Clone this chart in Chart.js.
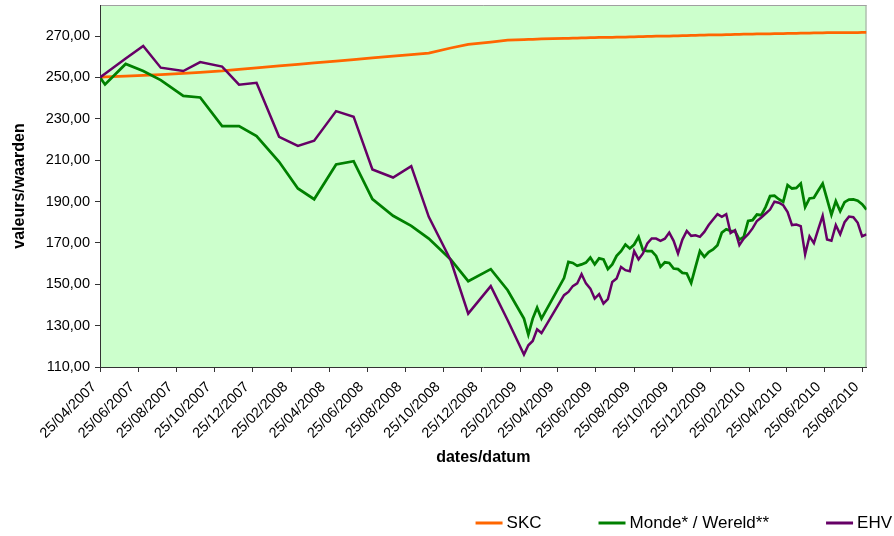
<!DOCTYPE html>
<html lang="nl">
<head>
<meta charset="UTF-8">
<title>SKC - Monde / Wereld - EHV</title>
<script src="https://cdn.jsdelivr.net/npm/chart.js@4"></script>
<style>
  html, body { margin: 0; padding: 0; background: #fff; }
  #chart { display: block; }
</style>
</head>
<body>
<canvas id="chart" width="894" height="536"></canvas>
<script>
// monthly points first, weekly from May 2009
const dates = [
  '25/04/2007','03/05/2007','05/06/2007','03/07/2007','31/07/2007','05/09/2007','02/10/2007','06/11/2007',
  '03/12/2007','31/12/2007','05/02/2008','06/03/2008','01/04/2008','06/05/2008','03/06/2008','03/07/2008',
  '05/08/2008','03/09/2008','01/10/2008','05/11/2008','03/12/2008','08/01/2009','04/02/2009','02/03/2009',
  '09/03/2009','16/03/2009','23/03/2009','30/03/2009',
  '05/05/2009','12/05/2009','19/05/2009','26/05/2009','02/06/2009','09/06/2009','16/06/2009','23/06/2009',
  '30/06/2009','07/07/2009','14/07/2009','21/07/2009','28/07/2009','04/08/2009','11/08/2009','18/08/2009',
  '25/08/2009','01/09/2009','08/09/2009','15/09/2009','22/09/2009','29/09/2009','06/10/2009','13/10/2009',
  '20/10/2009','27/10/2009','03/11/2009','10/11/2009','17/11/2009','24/11/2009','01/12/2009','08/12/2009',
  '15/12/2009','22/12/2009','29/12/2009','05/01/2010','12/01/2010','19/01/2010','26/01/2010','02/02/2010',
  '09/02/2010','16/02/2010','23/02/2010','02/03/2010','09/03/2010','16/03/2010','23/03/2010','30/03/2010',
  '06/04/2010','13/04/2010','20/04/2010','27/04/2010','04/05/2010','11/05/2010','18/05/2010','25/05/2010',
  '01/06/2010','08/06/2010','15/06/2010','22/06/2010','29/06/2010','06/07/2010','13/07/2010','20/07/2010',
  '27/07/2010','03/08/2010','10/08/2010','17/08/2010','24/08/2010','31/08/2010'
];

const skc = [
  250.0,250.2,250.6,251.0,251.4,251.9,252.4,253.1,253.9,254.6,255.6,256.3,257.0,257.9,258.6,259.4,
  260.3,261.0,261.7,264.2,266.0,267.1,268.0,268.3,268.4,268.4,268.5,268.6,
  268.9,268.9,269.0,269.0,269.1,269.1,269.2,269.2,269.3,269.3,269.4,269.4,269.5,269.5,269.5,269.6,
  269.6,269.7,269.7,269.8,269.8,269.9,269.9,270.0,270.0,270.1,270.1,270.2,270.2,270.3,270.3,270.4,
  270.4,270.5,270.5,270.6,270.6,270.7,270.7,270.8,270.8,270.9,270.9,270.9,271.0,271.0,271.1,271.1,
  271.2,271.2,271.2,271.3,271.3,271.3,271.4,271.4,271.4,271.5,271.5,271.5,271.6,271.6,271.6,271.6,
  271.7,271.7,271.7,271.7,271.8,271.8
];

const monde = [
  250.0,246.6,256.5,253.1,248.7,241.1,240.3,226.5,226.5,221.6,209.2,196.3,191.1,207.9,209.5,191.2,
  183.1,178.2,172.1,162.0,151.5,157.3,147.1,133.4,125.7,133.4,138.7,133.4,
  153.0,160.8,160.3,158.9,159.6,160.5,162.9,159.6,162.5,162.0,157.3,159.6,163.7,166.0,169.2,167.3,
  169.2,172.9,166.5,166.0,166.0,163.7,158.4,160.6,160.3,157.6,157.3,155.5,155.2,150.6,158.4,166.0,
  163.2,165.6,166.8,168.9,175.0,176.6,175.8,175.7,171.6,172.9,180.6,181.0,183.7,183.4,187.4,192.6,
  192.8,191.1,189.8,197.9,196.3,196.6,198.7,187.3,191.5,191.8,195.3,198.7,191.1,183.6,190.2,185.3,
  189.7,190.9,191.0,190.4,188.7,186.1
];

const ehv = [
  250.0,251.8,259.1,265.2,254.7,253.1,257.4,255.2,246.5,247.4,221.3,216.9,219.4,233.7,231.0,205.5,
  201.6,207.1,182.6,161.6,135.8,149.1,132.6,116.0,120.5,122.6,128.2,126.4,
  144.7,146.3,149.1,150.4,154.9,150.4,147.9,143.1,145.2,140.7,142.8,151.1,152.8,158.4,156.8,156.3,
  166.0,162.0,164.9,169.7,172.1,172.1,171.0,172.0,175.0,171.0,164.9,171.6,175.8,173.4,173.7,172.9,
  175.3,178.6,181.3,183.9,182.6,183.9,174.8,176.1,168.9,172.1,174.2,177.0,180.6,182.3,184.2,186.1,
  189.9,189.4,188.2,184.9,178.6,178.9,178.1,164.5,173.2,169.9,176.6,183.1,171.6,171.0,178.6,174.2,
  180.0,182.7,182.4,179.7,173.2,174.1
];

const xTickLabels = [
  '25/04/2007','25/06/2007','25/08/2007','25/10/2007','25/12/2007','25/02/2008','25/04/2008',
  '25/06/2008','25/08/2008','25/10/2008','25/12/2008','25/02/2009','25/04/2009','25/06/2009',
  '25/08/2009','25/10/2009','25/12/2009','25/02/2010','25/04/2010','25/06/2010','25/08/2010'
];
const yTicks = [110, 130, 150, 170, 190, 210, 230, 250, 270];
const seriesNames = ['SKC', 'Monde* / Wereld**', 'EHV'];
const seriesColors = ['#ff6600', '#008000', '#660066'];

// dd/mm/yyyy -> days since first date
function dayNumber(s) {
  const [d, m, y] = s.split('/').map(Number);
  return Date.UTC(y, m - 1, d) / 86400000;
}
const day0 = dayNumber(dates[0]);
const toX = s => dayNumber(s) - day0;

const toPoints = values => values.map((v, i) => ({ x: toX(dates[i]), y: v }));

Chart.defaults.font.family = "'Liberation Sans', Arial, sans-serif";
Chart.defaults.color = '#000';

const plotBackground = {
  id: 'plotBackground',
  beforeDraw(chart) {
    const { ctx, chartArea: a } = chart;
    ctx.save();
    ctx.fillStyle = '#ccffcc';
    ctx.fillRect(a.left, a.top, a.right - a.left, a.bottom - a.top);
    ctx.strokeStyle = '#a0a0a0';
    ctx.lineWidth = 1;
    ctx.beginPath();
    ctx.moveTo(a.left, a.top + 0.5);
    ctx.lineTo(a.right, a.top + 0.5);
    ctx.moveTo(a.right - 0.5, a.top);
    ctx.lineTo(a.right - 0.5, a.bottom);
    ctx.stroke();
    ctx.restore();
  }
};

// legend at the bottom right, line sample + text
const lineLegend = {
  id: 'lineLegend',
  afterDraw(chart) {
    const { ctx } = chart;
    const y = 523;
    const sample = 27, gap = 4, itemGap = 57;
    ctx.save();
    ctx.font = "17px 'Liberation Sans', Arial, sans-serif";
    ctx.textBaseline = 'middle';
    ctx.textAlign = 'left';
    let right = 892;
    for (let i = chart.data.datasets.length - 1; i >= 0; i--) {
      const ds = chart.data.datasets[i];
      const w = ctx.measureText(ds.label).width;
      const start = right - w - gap - sample;
      ctx.strokeStyle = ds.borderColor;
      ctx.lineWidth = 3;
      ctx.beginPath();
      ctx.moveTo(start, y);
      ctx.lineTo(start + sample, y);
      ctx.stroke();
      ctx.fillStyle = '#000';
      ctx.fillText(ds.label, start + sample + gap, y);
      right = start - itemGap;
    }
    ctx.restore();
  }
};

new Chart(document.getElementById('chart'), {
  type: 'line',
  data: {
    datasets: [
      { label: seriesNames[0], data: toPoints(skc), borderColor: seriesColors[0], borderWidth: 2.75, order: 2 },
      { label: seriesNames[1], data: toPoints(monde), borderColor: seriesColors[1], borderWidth: 2.75, order: 1 },
      { label: seriesNames[2], data: toPoints(ehv), borderColor: seriesColors[2], borderWidth: 2.5, order: 0 }
    ]
  },
  options: {
    responsive: false,
    animation: false,
    devicePixelRatio: 1,
    layout: { padding: { top: 5, right: 27.5, bottom: 0, left: 0 } },
    elements: { point: { radius: 0 }, line: { tension: 0 } },
    plugins: { legend: { display: false }, tooltip: { enabled: false } },
    scales: {
      x: {
        type: 'linear',
        min: 0,
        max: toX(dates[dates.length - 1]),
        afterBuildTicks: s => { s.ticks = xTickLabels.map(l => ({ value: toX(l) })); },
        afterFit: s => { s.height = 169; s.paddingLeft = 0; s.paddingRight = 0; },
        grid: { drawOnChartArea: false, tickLength: 5, color: '#333' },
        border: { color: '#333' },
        ticks: {
          autoSkip: false, minRotation: 45, maxRotation: 45,
          padding: 6.5, labelOffset: -6,
          font: { size: 14.5 },
          callback: (v, i) => xTickLabels[i]
        },
        title: {
          display: true, text: 'dates/datum',
          font: { size: 16, weight: 'bold' },
          padding: { top: 0, bottom: 68.4 }
        }
      },
      y: {
        min: 110,
        max: 285,
        afterBuildTicks: s => { s.ticks = yTicks.map(v => ({ value: v })); },
        afterFit: s => { s.width = 100; s.paddingTop = 0; s.paddingBottom = 0; },
        grid: { drawOnChartArea: false, tickLength: 5, color: '#333' },
        border: { color: '#333' },
        ticks: {
          padding: 5,
          font: { size: 14.5 },
          callback: v => v.toFixed(2).replace('.', ',')
        },
        title: {
          display: true, text: 'valeurs/waarden',
          font: { size: 16, weight: 'bold' },
          padding: { top: 10.4, bottom: 0 }
        }
      }
    }
  },
  plugins: [plotBackground, lineLegend]
});
</script>
</body>
</html>
